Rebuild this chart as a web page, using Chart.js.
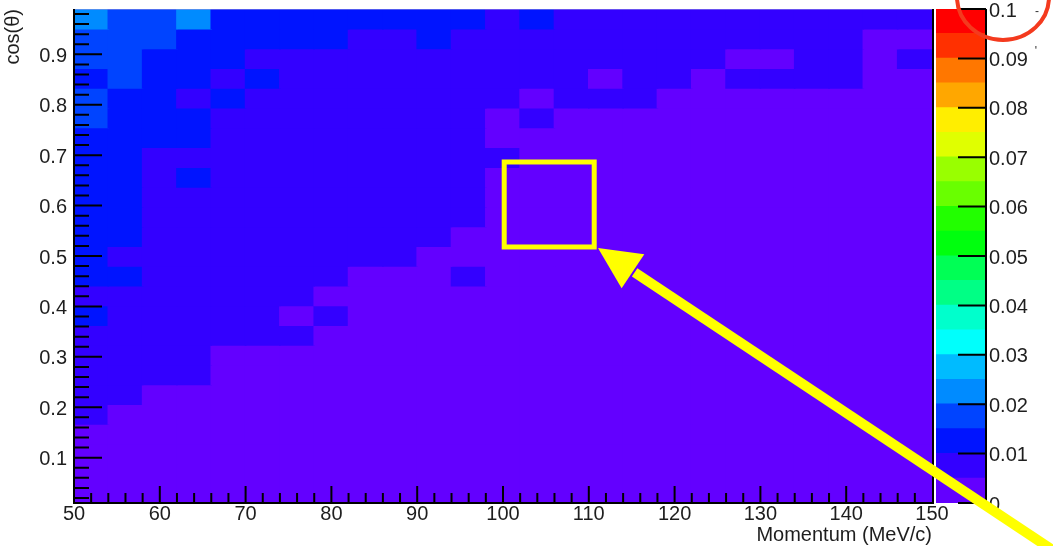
<!DOCTYPE html>
<html>
<head>
<meta charset="utf-8">
<script src="https://cdn.jsdelivr.net/npm/chart.js@4.4.1/dist/chart.umd.min.js"></script>
<style>
  html, body { margin: 0; padding: 0; background: #ffffff; }
  #wrap { position: relative; width: 1053px; height: 546px; overflow: hidden; background: #ffffff; }
  #wrap canvas { position: absolute; left: 0; top: 0; }
  #bar { z-index: 1; }
  #main { z-index: 2; }
</style>
</head>
<body>
<div id="wrap">
  <canvas id="bar" width="1053" height="546"></canvas>
  <canvas id="main" width="1053" height="546"></canvas>
</div>
<script>
// ---------------- data ----------------
const momentumEdges = [50, 54, 58, 62, 66, 70, 74, 78, 82, 86, 90, 94, 98, 102, 106, 110, 114, 118, 122, 126, 130, 134, 138, 142, 146, 150];
const cosEdges = [0.0100, 0.0492, 0.0884, 0.1276, 0.1668, 0.2060, 0.2452, 0.2844, 0.3236, 0.3628, 0.4020, 0.4412, 0.4804, 0.5196, 0.5588, 0.5980, 0.6372, 0.6764, 0.7156, 0.7548, 0.7940, 0.8332, 0.8724, 0.9116, 0.9508, 0.9900];

// values[r][c] : r = 0 is the top cos(theta) row, c = momentum bin (left to right)
const values = [
  [.022,.017,.017,.022,.012, .012,.012,.012,.012,.012, .012,.012,.008,.012,.008, .008,.008,.008,.008,.008, .008,.008,.008,.008,.008],
  [.017,.017,.017,.012,.012, .012,.012,.012,.008,.008, .012,.008,.008,.008,.008, .008,.008,.008,.008,.008, .008,.008,.008,.003,.003],
  [.017,.017,.012,.012,.012, .008,.008,.008,.008,.008, .008,.008,.008,.008,.008, .008,.008,.008,.008,.003, .003,.008,.008,.003,.008],
  [.012,.017,.012,.012,.008, .012,.008,.008,.008,.008, .008,.008,.008,.008,.008, .003,.008,.008,.003,.008, .008,.008,.008,.003,.003],
  [.017,.012,.012,.008,.012, .008,.008,.008,.008,.008, .008,.008,.008,.003,.008, .008,.008,.003,.003,.003, .003,.003,.003,.003,.003],
  [.017,.012,.012,.012,.008, .008,.008,.008,.008,.008, .008,.008,.003,.008,.003, .003,.003,.003,.003,.003, .003,.003,.003,.003,.003],
  [.012,.012,.012,.012,.008, .008,.008,.008,.008,.008, .008,.008,.003,.003,.003, .003,.003,.003,.003,.003, .003,.003,.003,.003,.003],
  [.012,.012,.008,.008,.008, .008,.008,.008,.008,.008, .008,.008,.008,.003,.003, .003,.003,.003,.003,.003, .003,.003,.003,.003,.003],
  [.012,.012,.008,.012,.008, .008,.008,.008,.008,.008, .008,.008,.003,.003,.003, .003,.003,.003,.003,.003, .003,.003,.003,.003,.003],
  [.012,.012,.008,.008,.008, .008,.008,.008,.008,.008, .008,.008,.003,.003,.003, .003,.003,.003,.003,.003, .003,.003,.003,.003,.003],
  [.012,.012,.008,.008,.008, .008,.008,.008,.008,.008, .008,.008,.003,.003,.003, .003,.003,.003,.003,.003, .003,.003,.003,.003,.003],
  [.012,.012,.008,.008,.008, .008,.008,.008,.008,.008, .008,.003,.003,.003,.003, .003,.003,.003,.003,.003, .003,.003,.003,.003,.003],
  [.012,.008,.008,.008,.008, .008,.008,.008,.008,.008, .003,.003,.003,.003,.003, .003,.003,.003,.003,.003, .003,.003,.003,.003,.003],
  [.012,.012,.008,.008,.008, .008,.008,.008,.003,.003, .003,.008,.003,.003,.003, .003,.003,.003,.003,.003, .003,.003,.003,.003,.003],
  [.008,.008,.008,.008,.008, .008,.008,.003,.003,.003, .003,.003,.003,.003,.003, .003,.003,.003,.003,.003, .003,.003,.003,.003,.003],
  [.012,.008,.008,.008,.008, .008,.003,.008,.003,.003, .003,.003,.003,.003,.003, .003,.003,.003,.003,.003, .003,.003,.003,.003,.003],
  [.008,.008,.008,.008,.008, .008,.008,.003,.003,.003, .003,.003,.003,.003,.003, .003,.003,.003,.003,.003, .003,.003,.003,.003,.003],
  [.008,.008,.008,.008,.003, .003,.003,.003,.003,.003, .003,.003,.003,.003,.003, .003,.003,.003,.003,.003, .003,.003,.003,.003,.003],
  [.008,.008,.008,.008,.003, .003,.003,.003,.003,.003, .003,.003,.003,.003,.003, .003,.003,.003,.003,.003, .003,.003,.003,.003,.003],
  [.008,.008,.003,.003,.003, .003,.003,.003,.003,.003, .003,.003,.003,.003,.003, .003,.003,.003,.003,.003, .003,.003,.003,.003,.003],
  [.008,.003,.003,.003,.003, .003,.003,.003,.003,.003, .003,.003,.003,.003,.003, .003,.003,.003,.003,.003, .003,.003,.003,.003,.003],
  [.003,.003,.003,.003,.003, .003,.003,.003,.003,.003, .003,.003,.003,.003,.003, .003,.003,.003,.003,.003, .003,.003,.003,.003,.003],
  [.003,.003,.003,.003,.003, .003,.003,.003,.003,.003, .003,.003,.003,.003,.003, .003,.003,.003,.003,.003, .003,.003,.003,.003,.003],
  [.003,.003,.003,.003,.003, .003,.003,.003,.003,.003, .003,.003,.003,.003,.003, .003,.003,.003,.003,.003, .003,.003,.003,.003,.003],
  [.003,.003,.003,.003,.003, .003,.003,.003,.003,.003, .003,.003,.003,.003,.003, .003,.003,.003,.003,.003, .003,.003,.003,.003,.003]
];

const xTickValues = [50, 60, 70, 80, 90, 100, 110, 120, 130, 140, 150];
const xTickLabels = ['50', '60', '70', '80', '90', '100', '110', '120', '130', '140', '150'];
const yTickValues = [0.1, 0.2, 0.3, 0.4, 0.5, 0.6, 0.7, 0.8, 0.9];
const yTickLabels = ['0.1', '0.2', '0.3', '0.4', '0.5', '0.6', '0.7', '0.8', '0.9'];

const colorLevels = [0, 0.005, 0.01, 0.015, 0.02, 0.025, 0.03, 0.035, 0.04, 0.045, 0.05, 0.055, 0.06, 0.065, 0.07, 0.075, 0.08, 0.085, 0.09, 0.095, 0.1];
const paletteColors = ['#6300ff', '#3300ff', '#0014ff', '#0044ff', '#008bff', '#00bbff', '#00fffc', '#00ffcc', '#00ff85', '#00ff55',
                       '#00ff0e', '#22ff00', '#69ff00', '#99ff00', '#e0ff00', '#ffee00', '#ffa700', '#ff7700', '#ff3000', '#ff0000'];
const colorbarTickValues = [0, 0.01, 0.02, 0.03, 0.04, 0.05, 0.06, 0.07, 0.08, 0.09, 0.1];
const colorbarTickLabels = ['0', '0.01', '0.02', '0.03', '0.04', '0.05', '0.06', '0.07', '0.08', '0.09', '0.1'];

// annotation anchors in data coordinates (momentum, cos)
const highlightBox = { x0: 100.14, x1: 110.63, y0: 0.5179, y1: 0.6865 };
const arrowTip = { x: 111.07, y: 0.5159 };
const arrowTail = { x: 164.92, y: -0.0931 };

// ---------------- helpers ----------------
const FONT = "'Liberation Sans', Arial, Helvetica, sans-serif";
Chart.defaults.font.family = FONT;
Chart.defaults.font.size = 20;
Chart.defaults.color = '#1e1e1e';

function colorFor(v) {
  for (let k = 0; k < paletteColors.length; k++) {
    if (v >= colorLevels[k] && v < colorLevels[k + 1]) return paletteColors[k];
  }
  return v >= colorLevels[colorLevels.length - 1] ? paletteColors[paletteColors.length - 1] : paletteColors[0];
}

// ---------------- colour bar chart ----------------
const colorbarPlugin = {
  id: 'colorbarFrame',
  afterDraw(chart) {
    const { ctx, chartArea: a, scales: { y } } = chart;
    ctx.save();
    ctx.strokeStyle = '#000';
    ctx.lineWidth = 2;
    ctx.beginPath();
    ctx.moveTo(a.right, a.top);
    ctx.lineTo(a.right, a.bottom + 1);
    colorbarTickValues.forEach(v => {
      const py = y.getPixelForValue(v);
      ctx.moveTo(a.right - 28, py);
      ctx.lineTo(a.right, py);
    });
    ctx.stroke();
    ctx.restore();
  }
};

const colorbarChart = new Chart(document.getElementById('bar'), {
  type: 'bar',
  data: {
    labels: ['z'],
    datasets: paletteColors.map((col, k) => ({
      data: [colorLevels[k + 1] - colorLevels[k]],
      backgroundColor: col,
      borderWidth: 0,
      barPercentage: 1,
      categoryPercentage: 1,
      inflateAmount: 0.6
    }))
  },
  options: {
    responsive: false,
    animation: false,
    devicePixelRatio: 1,
    events: [],
    layout: { padding: { left: 936, top: 9, bottom: 43, right: 0 } },
    plugins: { legend: { display: false }, tooltip: { enabled: false } },
    scales: {
      x: { stacked: true, display: false },
      y: {
        stacked: true,
        position: 'right',
        min: 0,
        max: 0.1,
        grid: { display: false, drawTicks: false },
        border: { display: false },
        afterBuildTicks: s => { s.ticks = colorbarTickValues.map(v => ({ value: v })); },
        ticks: {
          autoSkip: false,
          padding: 3,
          labelOffset: 2,
          font: { size: 20, lineHeight: 0.8 },
          color: '#1e1e1e',
          callback: (v, i) => colorbarTickLabels[i]
        },
        afterFit: s => { s.width = 67; s.paddingTop = 0; s.paddingBottom = 0; }
      }
    }
  },
  plugins: [colorbarPlugin]
});

// ---------------- main heat map ----------------
const nRows = cosEdges.length - 1;
const datasets = values.map((row, r) => {
  const lo = cosEdges[nRows - 1 - r];
  const hi = cosEdges[nRows - r];
  return {
    data: row.map((v, c) => ({ x: (momentumEdges[c] + momentumEdges[c + 1]) / 2, y: [lo, hi], v: v })),
    backgroundColor: ctx => colorFor(ctx.raw ? ctx.raw.v : 0),
    borderWidth: 0,
    grouped: false,
    barPercentage: 1,
    categoryPercentage: 1,
    inflateAmount: 0.8
  };
});

const framePlugin = {
  id: 'rootFrame',
  afterDraw(chart) {
    const { ctx, chartArea: a, scales: { x, y } } = chart;
    ctx.save();
    // faint top frame
    ctx.strokeStyle = 'rgba(150,150,225,0.55)';
    ctx.lineWidth = 1;
    ctx.beginPath();
    ctx.moveTo(a.left, a.top + 0.5);
    ctx.lineTo(a.right, a.top + 0.5);
    ctx.stroke();

    ctx.strokeStyle = '#000';
    ctx.lineWidth = 2;
    ctx.beginPath();
    // axes + right frame
    ctx.moveTo(a.left, a.top);
    ctx.lineTo(a.left, a.bottom + 1);
    ctx.moveTo(a.left - 1, a.bottom);
    ctx.lineTo(a.right + 2, a.bottom);
    ctx.moveTo(a.right + 1, a.top);
    ctx.lineTo(a.right + 1, a.bottom);
    // x ticks (inward), every 2 MeV, longer every 10
    for (let i = 1; i < 50; i++) {
      const v = 50 + i * 2;
      const px = x.getPixelForValue(v);
      const len = (i % 5 === 0) ? 17 : 10;
      ctx.moveTo(px, a.bottom);
      ctx.lineTo(px, a.bottom - len);
    }
    // y ticks (inward), every 0.02, longer every 0.1
    for (let i = 1; i < 50; i++) {
      const v = i * 0.02;
      const py = y.getPixelForValue(v);
      if (py < a.top + 1 || py > a.bottom - 1) continue;
      const len = (i % 5 === 0) ? 28 : 15;
      ctx.moveTo(a.left, py);
      ctx.lineTo(a.left + len, py);
    }
    ctx.stroke();

    // yellow highlight box
    ctx.strokeStyle = '#ffff00';
    ctx.lineWidth = 5;
    const bx0 = x.getPixelForValue(highlightBox.x0), bx1 = x.getPixelForValue(highlightBox.x1);
    const by0 = y.getPixelForValue(highlightBox.y1), by1 = y.getPixelForValue(highlightBox.y0);
    ctx.strokeRect(bx0, by0, bx1 - bx0, by1 - by0);

    // yellow arrow
    const tx = x.getPixelForValue(arrowTip.x), ty = y.getPixelForValue(arrowTip.y);
    const sx = x.getPixelForValue(arrowTail.x), sy = y.getPixelForValue(arrowTail.y);
    const L = Math.hypot(sx - tx, sy - ty);
    const ux = (sx - tx) / L, uy = (sy - ty) / L;
    const nx = -uy, ny = ux;
    const headLen = 42, headHalf = 20.5;
    const baseX = tx + ux * headLen, baseY = ty + uy * headLen;
    ctx.fillStyle = '#ffff00';
    ctx.beginPath();
    ctx.moveTo(baseX + ux * 2 - nx * 5, baseY + uy * 2 - ny * 5);
    ctx.lineTo(sx - nx * 5, sy - ny * 5);
    ctx.lineTo(sx + nx * 5, sy + ny * 5);
    ctx.lineTo(baseX + ux * 2 + nx * 5, baseY + uy * 2 + ny * 5);
    ctx.closePath();
    ctx.fill();
    ctx.beginPath();
    ctx.moveTo(tx, ty);
    ctx.lineTo(baseX + nx * headHalf, baseY + ny * headHalf);
    ctx.lineTo(baseX - nx * headHalf, baseY - ny * headHalf);
    ctx.closePath();
    ctx.fill();

    // red circle around the colour bar maximum label
    const cb = colorbarChart;
    const cx = cb.chartArea.right + 17;
    const cy = cb.scales.y.getPixelForValue(0.1) - 12;
    ctx.strokeStyle = '#f43a1e';
    ctx.lineWidth = 4;
    ctx.beginPath();
    ctx.ellipse(cx, cy, 46, 43, 0, 0, Math.PI * 2);
    ctx.stroke();

    // tiny marks next to the top colour bar labels
    ctx.fillStyle = '#333';
    ctx.font = '12px ' + FONT;
    ctx.textAlign = 'center';
    ctx.textBaseline = 'middle';
    ctx.fillText('-', cb.chartArea.right + 51, cb.scales.y.getPixelForValue(0.1) + 3);
    ctx.fillText("'", cb.chartArea.right + 50, cb.scales.y.getPixelForValue(0.09) - 7);
    ctx.restore();
  }
};

new Chart(document.getElementById('main'), {
  type: 'bar',
  data: { datasets: datasets },
  options: {
    responsive: false,
    animation: false,
    devicePixelRatio: 1,
    events: [],
    layout: { padding: { top: 9, right: 121, left: 0, bottom: 0 } },
    plugins: { legend: { display: false }, tooltip: { enabled: false } },
    scales: {
      x: {
        type: 'linear',
        min: 50,
        max: 150,
        offset: false,
        grid: { display: false, offset: false, drawTicks: false },
        border: { display: false },
        afterBuildTicks: s => { s.ticks = xTickValues.map(v => ({ value: v })); },
        ticks: {
          autoSkip: false,
          maxRotation: 0,
          padding: 0,
          font: { size: 20, lineHeight: 1.1 },
          color: '#1e1e1e',
          callback: (v, i) => xTickLabels[i]
        },
        title: {
          display: true,
          text: 'Momentum (MeV/c)',
          align: 'end',
          color: '#1e1e1e',
          font: { size: 20, lineHeight: 1.0 },
          padding: { top: 0, bottom: 1 }
        },
        afterFit: s => { s.height = 43; s.paddingLeft = 0; s.paddingRight = 0; }
      },
      y: {
        type: 'linear',
        min: 0.01,
        max: 0.99,
        grid: { display: false, drawTicks: false },
        border: { display: false },
        afterBuildTicks: s => { s.ticks = yTickValues.map(v => ({ value: v })); },
        ticks: {
          autoSkip: false,
          padding: 7,
          labelOffset: 2,
          font: { size: 20, lineHeight: 0.8 },
          color: '#1e1e1e',
          callback: (v, i) => yTickLabels[i]
        },
        title: {
          display: true,
          text: 'cos(θ)',
          align: 'end',
          color: '#1e1e1e',
          font: { size: 20, lineHeight: 1.2 },
          padding: { top: 1, bottom: 0 }
        },
        afterFit: s => { s.width = 74; s.paddingTop = 0; s.paddingBottom = 0; }
      }
    }
  },
  plugins: [framePlugin]
});
</script>
</body>
</html>
